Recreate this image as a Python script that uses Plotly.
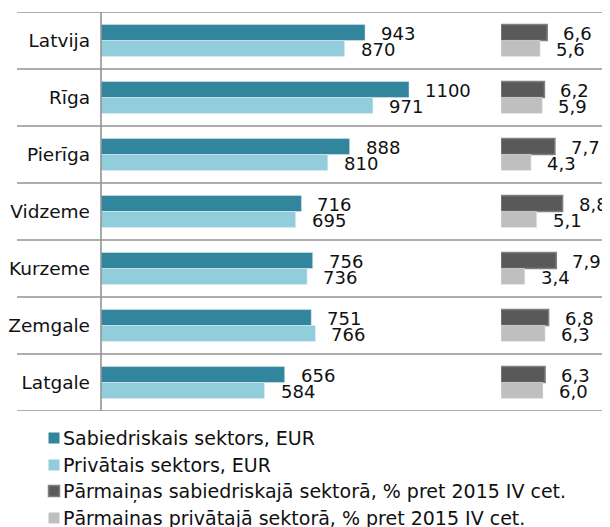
import plotly.graph_objects as go

# ---- data ----
regions = ["Latvija", "Rīga", "Pierīga", "Vidzeme", "Kurzeme", "Zemgale", "Latgale"]
public_eur = [943, 1100, 888, 716, 756, 751, 656]
private_eur = [870, 971, 810, 695, 736, 766, 584]
public_chg = [6.6, 6.2, 7.7, 8.8, 7.9, 6.8, 6.3]
private_chg = [5.6, 5.9, 4.3, 5.1, 3.4, 6.3, 6.0]
series_names = [
    "Sabiedriskais sektors, EUR",
    "Privātais sektors, EUR",
    "Pārmaiņas sabiedriskajā sektorā, % pret 2015 IV cet.",
    "Pārmaiņas privātajā sektorā, % pret 2015 IV cet.",
]

# ---- style ----
# the page body has an 8px margin, so the figure is placed at (8, 8)
OFF = 8
W, H = 610 - OFF, 527 - OFF
C_PUB = "#31859c"
C_PRIV = "#92cddc"
C_PUB_CHG = "#595959"
C_PUB_CHG_LINE = "#7f7f7f"
C_PRIV_CHG = "#bfbfbf"
GRID = "#939393"
FONT = "DejaVu Sans"
FS_NUM = 18
FS_CAT = 18.5
FS_LEG = 19
TXT = "#111111"

def px(x):
    return (x - OFF) / W

def py(y):
    return 1 - (y - OFF) / H

left_dom = [px(101), px(460)]
left_max = (460 - 101) / 0.28
right_dom = [px(501), 1.0]
right_max = (610 - 501) / 7.0

fig = go.Figure()
fig.add_trace(go.Bar(y=regions, x=public_eur, orientation="h", marker=dict(color=C_PUB),
                     name=series_names[0], xaxis="x", yaxis="y"))
fig.add_trace(go.Bar(y=regions, x=private_eur, orientation="h", marker=dict(color=C_PRIV),
                     name=series_names[1], xaxis="x", yaxis="y"))
fig.add_trace(go.Bar(y=regions, x=public_chg, orientation="h",
                     marker=dict(color=C_PUB_CHG, line=dict(color=C_PUB_CHG_LINE, width=1.5)),
                     name=series_names[2], xaxis="x2", yaxis="y"))
fig.add_trace(go.Bar(y=regions, x=private_chg, orientation="h", marker=dict(color=C_PRIV_CHG),
                     name=series_names[3], xaxis="x2", yaxis="y"))

annotations = []

def fmt_eur(v):
    return str(v)

def fmt_pct(v):
    return f"{v:.1f}".replace(".", ",")

for vals, xref, fmt, ysh in [
    (public_eur, "x", fmt_eur, 7),
    (private_eur, "x", fmt_eur, -9),
    (public_chg, "x2", fmt_pct, 7),
    (private_chg, "x2", fmt_pct, -9),
]:
    for cat, v in zip(regions, vals):
        annotations.append(dict(x=v, y=cat, xref=xref, yref="y", text=fmt(v),
                                showarrow=False, xanchor="left", yanchor="middle",
                                xshift=14, yshift=ysh,
                                font=dict(family=FONT, size=FS_NUM, color=TXT)))

shapes = []
n = len(regions)
for k in range(n + 1):
    shapes.append(dict(type="line", xref="paper", yref="y", x0=px(17), x1=px(605),
                       y0=k - 0.5, y1=k - 0.5, line=dict(color=GRID, width=1.6)))
shapes.append(dict(type="line", xref="paper", yref="y", x0=left_dom[0], x1=left_dom[0],
                   y0=-0.5, y1=n - 0.5, line=dict(color=GRID, width=1.6)))

# legend (manual, to match the original's compact layout)
leg_colors = [C_PUB, C_PRIV, C_PUB_CHG, C_PRIV_CHG]
leg_lines = [None, None, C_PUB_CHG_LINE, None]
leg_y = [438, 465, 491, 518]
for name, col, lc, yy in zip(series_names, leg_colors, leg_lines, leg_y):
    shapes.append(dict(type="rect", xref="paper", yref="paper",
                       x0=px(48.5), x1=px(59.5), y0=py(yy + 5.5), y1=py(yy - 5.5),
                       fillcolor=col,
                       line=dict(color=lc if lc else col, width=1.5 if lc else 0)))
    annotations.append(dict(x=px(61), y=py(yy), xref="paper", yref="paper", text=name,
                            showarrow=False, xanchor="left", yanchor="middle",
                            font=dict(family=FONT, size=FS_LEG, color=TXT)))

fig.update_layout(
    width=W, height=H,
    margin=dict(l=0, r=0, t=0, b=0),
    paper_bgcolor="white", plot_bgcolor="white",
    showlegend=False,
    barmode="group", bargap=0.44, bargroupgap=0,
    xaxis=dict(domain=left_dom, range=[0, left_max], visible=False, anchor="y"),
    xaxis2=dict(domain=right_dom, range=[0, right_max], visible=False, anchor="y"),
    yaxis=dict(domain=[py(411), py(12)], type="category", range=[n - 0.5, -0.5],
               showgrid=False, zeroline=False, showline=False, ticks="",
               ticklabelstandoff=10,
               tickfont=dict(family=FONT, size=FS_CAT, color=TXT)),
    shapes=shapes,
    annotations=annotations,
    font=dict(family=FONT, size=FS_NUM, color=TXT),
)

fig.write_html("out.html")
